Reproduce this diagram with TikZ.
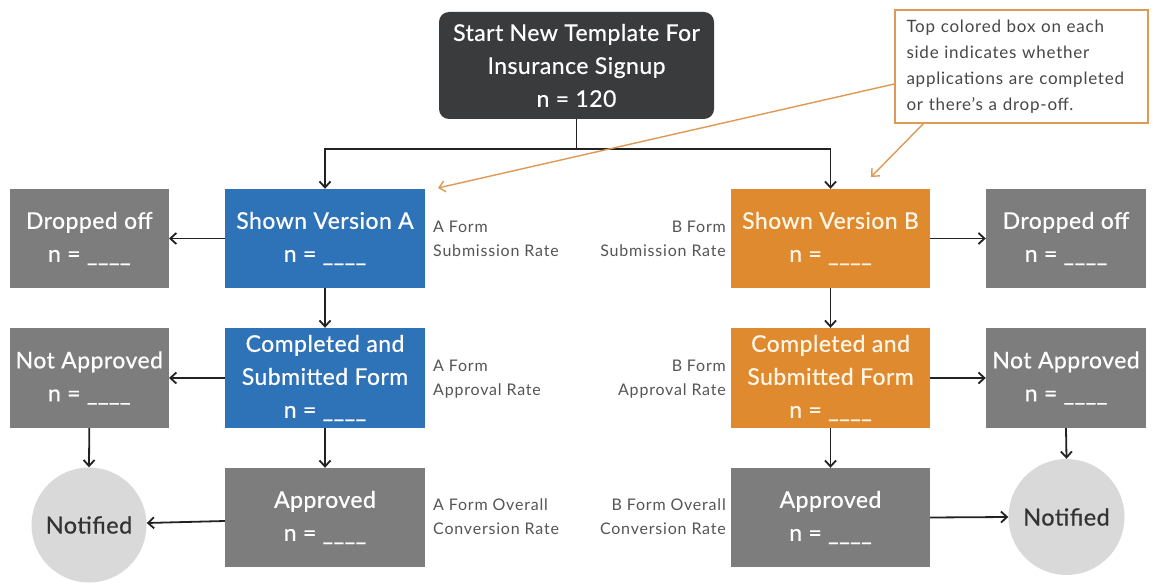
\documentclass[tikz,border=0pt]{standalone}
\usepackage{fontspec}
\setmainfont{Lato}
\newfontfamily\boxfont{Lato}[FakeBold=0.6, LetterSpace=2]
\newfontfamily\lblfont{Lato}[LetterSpace=5]
\newfontfamily\callfont{Lato}[LetterSpace=4.5]
\usetikzlibrary{arrows.meta,calc}
\definecolor{darkbox}{HTML}{3A3B3D}
\definecolor{bluebox}{HTML}{2E72B8}
\definecolor{orangebox}{HTML}{E08A30}
\definecolor{graybox}{HTML}{7D7D7D}
\definecolor{circfill}{HTML}{D9D9D9}
\definecolor{calloutline}{HTML}{DE9A55}
\definecolor{labelgray}{HTML}{555555}
\definecolor{linecol}{HTML}{222222}
\definecolor{creamtext}{HTML}{FFF6E6}
\begin{document}
\begin{tikzpicture}[x=1pt,y=-1pt,
  boxtext/.style={font=\boxfont\fontsize{23}{33}\selectfont, text=white, align=center, inner sep=0pt},
  flowbox/.style={boxtext, rectangle, minimum width=200pt, minimum height=99pt},
  orangeflow/.style={flowbox, fill=orangebox, text=creamtext, minimum width=199pt},
  sidebox/.style={boxtext, rectangle, fill=graybox, minimum width=159pt, minimum height=99pt},
  circ/.style={circle, fill=circfill, minimum size=115pt, inner sep=0pt, font=\boxfont\fontsize{23.5}{24}\selectfont, text=black!80},
  ratelabel/.style={font=\lblfont\fontsize{16}{24}\selectfont, text=labelgray, inner sep=0pt},
  arr/.style={draw=linecol, line width=1.8pt, -{Straight Barb[length=6pt,width=11pt,line width=1.8pt]}},
  carr/.style={draw=calloutline, line width=1.4pt, -{Straight Barb[length=6pt,width=11pt,line width=1.4pt]}}
]
\useasboundingbox (0,0) rectangle (1157,588);
\fill[white] (0,0) rectangle (1157,588);

% top node
\node[boxtext, fill=darkbox, rounded corners=10pt, minimum width=275pt, minimum height=107pt] (start) at (576.5,65.5)
  {Start New Template For\\Insurance Signup\\n = 120};

% callout
\node[draw=calloutline, line width=1.4pt, fill=white, minimum width=253pt, minimum height=113pt, text width=230pt, align=left, inner sep=0pt,
  font=\callfont\fontsize{17}{26}\selectfont, text=black!72] (callout) at (1021.5,66.5)
  {Top colored box on each\\side indicates whether\\applications are completed\\or there’s a drop-off.};

% version A column
\node[flowbox, fill=bluebox] (sva) at (325,238.5) {Shown Version A\\n = \_\_\_\_};
\node[flowbox, fill=bluebox, minimum height=100pt] (ca) at (325,378) {Completed and\\Submitted Form\\n = \_\_\_\_};
\node[flowbox, fill=graybox] (apa) at (325,517.5) {Approved\\n = \_\_\_\_};
\node[sidebox] (doa) at (89.3,238.5) {Dropped off\\n = \_\_\_\_};
\node[sidebox, minimum height=100pt] (naa) at (89.3,378) {Not Approved\\n = \_\_\_\_};
\node[circ] (nota) at (89,525) {Notified};

% version B column
\node[orangeflow] (svb) at (830.5,238.5) {Shown Version B\\n = \_\_\_\_};
\node[orangeflow, minimum height=100pt] (cb) at (830.5,378) {Completed and\\Submitted Form\\n = \_\_\_\_};
\node[flowbox, fill=graybox, minimum width=199pt] (apb) at (830.5,517.5) {Approved\\n = \_\_\_\_};
\node[sidebox, minimum width=160pt] (dob) at (1066,238.5) {Dropped off\\n = \_\_\_\_};
\node[sidebox, minimum width=160pt, minimum height=100pt] (nab) at (1066,378) {Not Approved\\n = \_\_\_\_};
\node[circ, minimum size=116pt] (notb) at (1066.5,517) {Notified};

% rate labels
\node[ratelabel, anchor=west, align=left] (la1) at (433,239) {A Form\\Submission Rate};
\node[ratelabel, anchor=west, align=left] (la2) at (433,379) {A Form\\Approval Rate};
\node[ratelabel, anchor=west, align=left] (la3) at (433,517) {A Form Overall\\Conversion Rate};
\node[ratelabel, anchor=east, align=right] (lb1) at (726,239) {B Form\\Submission Rate};
\node[ratelabel, anchor=east, align=right] (lb2) at (726,379) {B Form\\Approval Rate};
\node[ratelabel, anchor=east, align=right] (lb3) at (726,517) {B Form Overall\\Conversion Rate};

% connectors
\coordinate (split) at (576.5,149);
\draw[arr] (start.south) -- (split) -| (sva.north);
\draw[arr] (split) -| (svb.north);
\draw[arr] (sva.west) -- (doa.east);
\draw[arr] (sva.south) -- (ca.north);
\draw[arr] (ca.west) -- (naa.east);
\draw[arr] (ca.south) -- (apa.north);
\draw[arr] (naa.south) -- (nota.north);
\draw[arr] ($(apa.west)+(0,3.5)$) -- ($(nota.east)+(0,-2)$);
\draw[arr] (svb.east) -- (dob.west);
\draw[arr] (svb.south) -- (cb.north);
\draw[arr] (cb.east) -- (nab.west);
\draw[arr] (cb.south) -- (apb.north);
\draw[arr] (nab.south) -- (notb.north);
\draw[arr] (apb.east) -- (notb.west);

% callout pointers
\coordinate (ta) at (438,188);
\coordinate (tb) at (871,177);
\draw[carr] ($(callout.west)+(0,17.5)$) -- (ta);
\draw[carr] ($(callout.south west)+(29,0)$) -- (tb);
\end{tikzpicture}
\end{document}
